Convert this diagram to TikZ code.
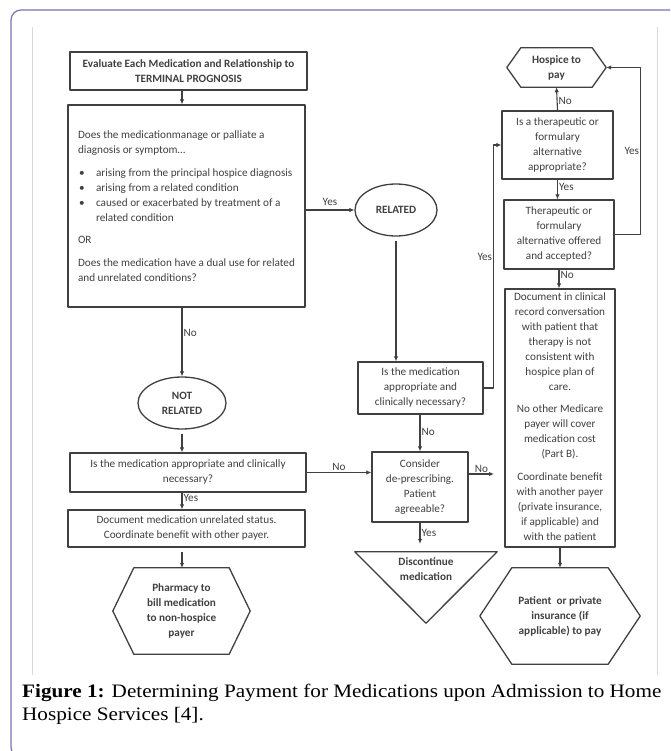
\documentclass[tikz,border=0pt]{standalone}
\usepackage{graphicx}
\usepackage{fontspec}
\setmainfont{Carlito}
\newfontfamily\capfont{Liberation Serif}
\usetikzlibrary{shapes.geometric,arrows.meta}

\definecolor{framepurple}{RGB}{125,112,184}
\definecolor{inkgray}{RGB}{64,64,64}
\definecolor{rulegray}{RGB}{217,217,217}

% flat-topped hexagon round a plain node
\newcommand{\drawhex}[2]{\draw[inkgray,line width=1.3pt] (#1.west) -- ([xshift=#2]#1.north west) -- ([xshift=-#2]#1.north east) -- (#1.east) -- ([xshift=-#2]#1.south east) -- ([xshift=#2]#1.south west) -- cycle;}

\begin{document}
\begin{tikzpicture}[x=1pt,y=-1pt,>={Latex[length=5pt,width=4.5pt]},line join=round,
  font=\fontsize{11.2}{15}\selectfont, text=inkgray,
  box/.style={draw=inkgray,line width=1.3pt,inner sep=0pt,align=center},
  oval/.style={ellipse,draw=inkgray,line width=1.3pt,inner sep=0pt,align=center,font=\fontsize{11.2}{15}\selectfont\bfseries},
  plain/.style={inner sep=0pt,align=center},
  link/.style={->,draw=inkgray,line width=1.1pt},
  lbl/.style={inner sep=1pt}]
  \fill[white] (0,0) rectangle (670,751);
  \useasboundingbox (0,0) rectangle (670,751);
  \begin{scope}
    \clip (0,0) rectangle (670,751);
    \draw[framepurple,line width=1.2pt,rounded corners=10pt] (11,10) rectangle (700,757);
  \end{scope}
  \draw[rulegray,line width=.8pt] (32,27) -- (32,675) (657,27) -- (657,675);

  % left column
  \node[box,minimum width=237pt,minimum height=38pt,font=\fontsize{11.2}{15}\selectfont\bfseries] (evalbox) at (188.5,71) {Evaluate Each Medication and Relationship to\\TERMINAL PROGNOSIS};
  \node[box,minimum width=237pt,minimum height=202pt,align=left] (relq) at (186.5,206) {Does the medicationmanage or palliate a\\
    diagnosis or symptom…\\[8pt]
    \makebox[18pt][l]{\hspace{1pt}\textbullet}arising from the principal hospice diagnosis\\
    \makebox[18pt][l]{\hspace{1pt}\textbullet}arising from a related condition\\
    \makebox[18pt][l]{\hspace{1pt}\textbullet}caused or exacerbated by treatment of a\\
    \hspace*{18pt}related condition\\[7pt]
    OR\\[8pt]
    Does the medication have a dual use for related\\
    and unrelated conditions?};
  \node[oval,minimum width=88pt,minimum height=52pt] (notrel) at (182,403) {NOT\\RELATED};
  \node[box,minimum width=236pt,minimum height=39pt] (leftapp) at (188,472.5) {Is the medication appropriate and clinically\\necessary?};
  \node[box,minimum width=237pt,minimum height=37pt] (unrel) at (186.5,528.5) {Document medication unrelated status.\\Coordinate benefit with other payer.};
  \node[plain,minimum width=137pt,minimum height=86pt,font=\fontsize{11.2}{15}\selectfont\bfseries] (pharm) at (181.5,611) {Pharmacy to\\bill medication\\to non-hospice\\payer};
  \drawhex{pharm}{21pt}

  % middle column
  \node[oval,minimum width=82pt,minimum height=52pt] (related) at (396,210) {RELATED};
  \node[box,minimum width=125pt,minimum height=52pt] (midapp) at (420.5,388) {Is the medication\\appropriate and\\clinically necessary?};
  \node[box,minimum width=96pt,minimum height=70pt] (consider) at (420,487) {Consider\\de-prescribing.\\Patient\\agreeable?};
  \node[plain,minimum width=142pt,minimum height=71pt] (discont) at (426,587.5) {};
  \draw[inkgray,line width=1.3pt] (discont.north west) -- (discont.north east) -- (discont.south) -- cycle;
  \node[plain,below,font=\fontsize{11.2}{15}\selectfont\bfseries] (discontxt) at ([yshift=-6pt]discont.north) {Discontinue\\medication};

  % right column
  \node[plain,minimum width=99pt,minimum height=39pt,font=\fontsize{11.2}{15}\selectfont\bfseries] (hosp) at (556.5,67.5) {Hospice to\\pay};
  \drawhex{hosp}{14pt}
  \node[box,minimum width=111pt,minimum height=68pt] (altq) at (557.5,145) {Is a therapeutic or\\formulary\\alternative\\appropriate?};
  \node[box,minimum width=110pt,minimum height=69pt] (offer) at (559,234.5) {Therapeutic or\\formulary\\alternative offered\\and accepted?};
  \node[box,minimum width=110pt,minimum height=258pt] (docrec) at (560,418) {Document in clinical\\record conversation\\with patient that\\therapy is not\\consistent with\\hospice plan of\\care.\\[7pt]No other Medicare\\payer will cover\\medication cost\\(Part B).\\[8pt]Coordinate benefit\\with another payer\\(private insurance,\\if applicable) and\\with the patient};
  \node[plain,minimum width=160pt,minimum height=96pt,font=\fontsize{11.2}{15}\selectfont\bfseries] (patpay) at (560,616) {Patient\ \ or private\\insurance (if\\applicable) to pay};
  \drawhex{patpay}{32pt}

  % connectors
  \draw[link] (evalbox.south -| notrel) -- (relq.north -| notrel);
  \draw[link] (relq.south -| notrel) -- node[lbl,right,pos=.37]{No} (notrel.north);
  \draw[link,shorten <=4pt] (notrel.south) -- (leftapp.north -| notrel);
  \draw[link] (leftapp.south -| notrel) -- node[lbl,right,pos=.3]{Yes} (unrel.north -| notrel);
  \draw[link,shorten <=4pt] (unrel.south -| notrel) -- (pharm.north -| notrel);
  \draw[link] (relq.east |- related) -- node[lbl,above=3pt]{Yes} (related.west);
  \draw[link,shorten <=4pt] (related.south) -- (midapp.north -| related);
  \draw[link] (midapp.south -| consider) -- node[lbl,right,pos=.47]{No} (consider.north);
  \draw[link] (leftapp.east) -- node[lbl,above]{No} (leftapp.east -| consider.west);
  \coordinate (noend) at (494,474);
  \draw[link] (consider.east |- noend) -- node[lbl,above]{No} (noend);
  \draw[link,shorten >=8pt] (consider.south) -- node[lbl,right,pos=.37]{Yes} (consider.south |- discont.north);
  \draw[link] (midapp.east) -- ++(10,0) |- node[lbl,left,pos=.27]{Yes} (altq.west);
  \draw[link] (altq.north) -- node[lbl,right,pos=.4]{No} (hosp.south);
  \draw[link] (altq.south) -- node[lbl,right,pos=.38]{Yes} (altq.south |- offer.north);
  \draw[link] (offer.south) -- node[lbl,right,pos=.3]{No} (offer.south |- docrec.north);
  \draw[link] (offer.east) -- ++(26,0) |- node[lbl,left,pos=.25]{Yes} (hosp.east);
  \draw[link] (docrec.south) -- (patpay.north);

  % caption
  \node[anchor=north west,inner sep=0pt,align=left,text=black,font=\capfont\fontsize{19}{22.5}\selectfont] (caption) at (22,684) {\scalebox{1.114}[1]{\textbf{Figure 1:} Determining Payment for Medications upon Admission to Home}\\\scalebox{1.114}[1]{Hospice Services [4].}};
\end{tikzpicture}
\end{document}
